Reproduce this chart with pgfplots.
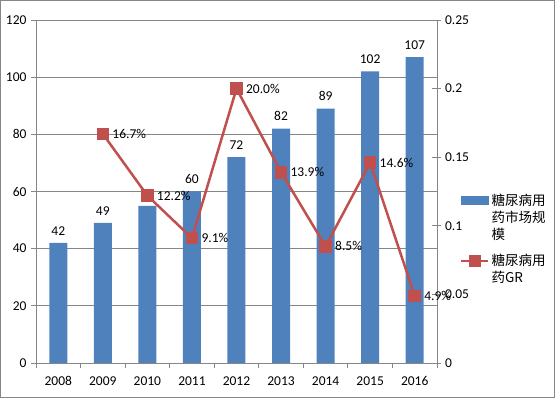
\documentclass[border=0pt]{standalone}
\usepackage{pgfplots}
\pgfplotsset{compat=1.18}
\usepackage{fontspec}
\setmainfont{Carlito}
\newfontfamily\cjk{Noto Sans CJK SC}
\definecolor{barblue}{HTML}{4F81BD}
\definecolor{linered}{HTML}{C0504D}
\definecolor{gridgray}{HTML}{868686}
\begin{document}
\begin{tikzpicture}[x=1pt,y=1pt]
\draw[gridgray, line width=1pt] (0.5,0.5) rectangle (554.5,397.5);
\begin{axis}[
  at={(36pt,35pt)}, anchor=south west,
  scale only axis, width=401pt, height=343pt,
  xmin=-0.5, xmax=8.5, ymin=0, ymax=120,
  ybar, bar width=18pt,
  xtick={-0.5,0.5,...,8.5}, x tick label as interval,
  xticklabels={2008,2009,2010,2011,2012,2013,2014,2015,2016},
  ytick={0,20,40,60,80,100,120},
  yticklabels={0,20,40,60,80,100,120},
  axis lines*=left,
  axis line style={gridgray, line width=0.8pt, -},
  tick style={gridgray, line width=0.8pt},
  tick align=outside, major tick length=5pt,
  ymajorgrids, grid style={gridgray, line width=0.8pt},
  tick label style={font=\fontsize{13.5}{16}\selectfont, black},
  xticklabel style={yshift=-5pt},
  yticklabel style={xshift=-1pt},
  /pgf/number format/assume math mode=true,
  nodes near coords={\pgfmathprintnumber[assume math mode=true]{\pgfplotspointmeta}},
  nodes near coords style={font=\fontsize{13.5}{16}\selectfont, black, anchor=south, yshift=4pt},
]
\addplot[fill=barblue, draw=none] coordinates {
  (0,42) (1,49) (2,55) (3,60) (4,72) (5,82) (6,89) (7,102) (8,107)
};
\end{axis}
\begin{axis}[
  at={(36pt,35pt)}, anchor=south west,
  scale only axis, width=401pt, height=343pt,
  xmin=-0.5, xmax=8.5, ymin=0, ymax=0.25,
  axis y line*=right, axis x line=none,
  ytick={0,0.05,0.1,0.15,0.2,0.25},
  yticklabels={0,0.05,0.1,0.15,0.2,0.25},
  axis line style={gridgray, line width=0.8pt, -},
  tick style={gridgray, line width=0.8pt},
  tick align=center, major tick length=9pt,
  tick label style={font=\fontsize{13.5}{16}\selectfont, black},
  legend style={at={(1.057,0.50)}, anchor=north west, draw=none, fill=none,
    font=\cjk\fontsize{13.5}{17}\selectfont, cells={align=left}, row sep=10pt,
    inner sep=0pt},
  legend cell align=left,
]
\addlegendimage{legend image code/.code={\fill[barblue] (0pt,13pt) rectangle (27pt,21pt);}}
\addlegendentry{糖尿病用\\药市场规\\模}
\addplot[linered, line width=2.5pt, mark=square*, mark size=5pt,
  nodes near coords={\pgfplotspointmeta}, point meta=explicit symbolic,
  nodes near coords style={font=\fontsize{13.5}{16}\selectfont, black, anchor=west, xshift=5pt},
  legend image code/.code={\draw[linered, line width=2.5pt] (0pt,8.5pt) -- (27pt,8.5pt); \fill[linered] (8.5pt,3.5pt) rectangle (18.5pt,13.5pt);}]
coordinates {
  (1,0.167) [16.7\%]
  (2,0.122) [12.2\%]
  (3,0.091) [9.1\%]
  (4,0.200) [20.0\%]
  (5,0.139) [13.9\%]
  (6,0.085) [8.5\%]
  (7,0.146) [14.6\%]
  (8,0.049) [4.9\%]
};
\addlegendentry{糖尿病用\\药GR}
\end{axis}
\end{tikzpicture}
\end{document}
